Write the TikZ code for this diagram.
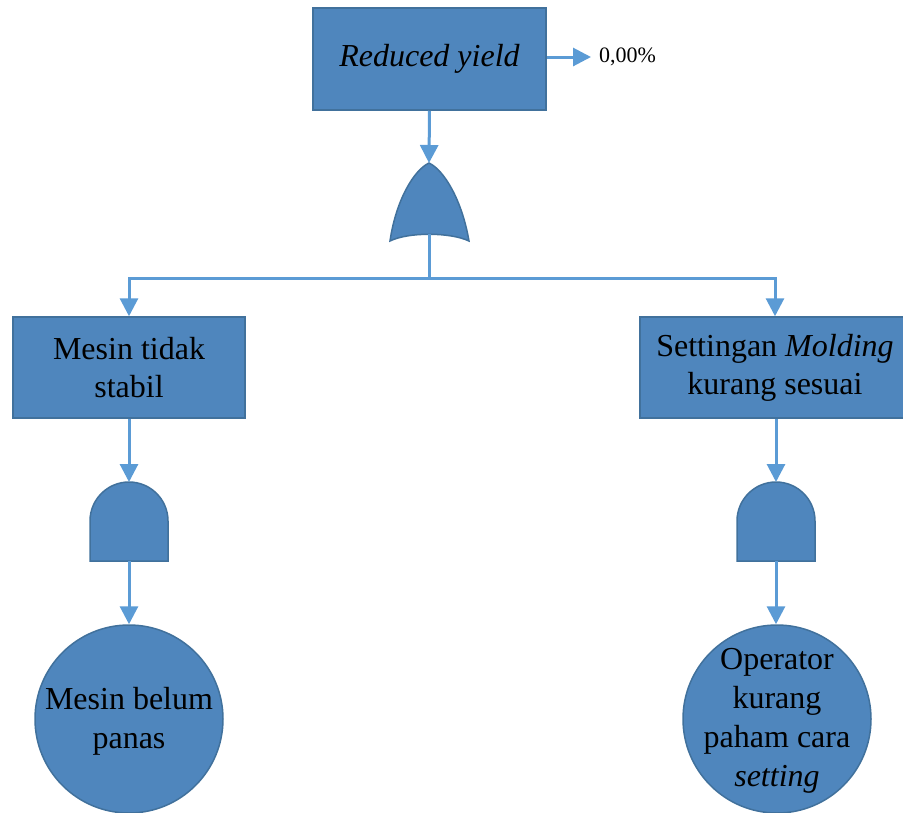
\documentclass[tikz,border=0pt]{standalone}
\usepackage{fontspec}
\setmainfont{Liberation Serif}
\usetikzlibrary{arrows.meta}
\definecolor{boxfill}{RGB}{79,134,189}
\definecolor{boxline}{RGB}{65,113,156}
\definecolor{connc}{RGB}{91,155,213}
\tikzset{
  evbox/.style={draw=boxline, line width=1.5pt, fill=boxfill, align=center, inner sep=0pt,
    font=\fontsize{32}{38}\selectfont},
  basic/.style={circle, draw=boxline, line width=1.5pt, fill=boxfill, inner sep=0pt,
    minimum size=188pt},
  btext/.style={align=center, inner sep=0pt, font=\fontsize{32}{39}\selectfont},
  gate/.style={draw=boxline, line width=1.5pt, fill=boxfill},
  conn/.style={draw=connc, line width=3pt},
  arr/.style={-{Triangle[length=18pt,width=18pt]}},
}
\begin{document}
\begin{tikzpicture}[x=1pt,y=-1pt]
\useasboundingbox (0,0) rectangle (903,812);
% top event
\node[evbox, minimum width=233pt, minimum height=102pt] (top) at (429.5,59) {\textit{Reduced yield}};
\node[anchor=west, font=\fontsize{22}{26}\selectfont, inner sep=0pt] (pct) at (599,57) {0,00\%};
% OR gate
\coordinate (ortop) at (429,163);
\coordinate (orbot) at (429,234);
\path[gate] (390,241) .. controls (396,200) and (414,170) .. (ortop)
  .. controls (444,170) and (462,200) .. (469,241)
  .. controls (450,232) and (408,232) .. cycle;
% intermediate events
\node[evbox, minimum width=232pt, minimum height=101pt] (m1) at (129,367.5) {Mesin tidak\\stabil};
\node[evbox, minimum width=270pt, minimum height=101pt] (m2) at (775,367.5) {Settingan \textit{Molding}\\kurang sesuai};
% AND gates
\coordinate (and1top) at (129,482);
\coordinate (and1bot) at (129,561);
\path[gate] (90,561) -- (90,521) arc[start angle=180,end angle=360,radius=39] -- (168,561) -- cycle;
\coordinate (and2top) at (776,482);
\coordinate (and2bot) at (776,561);
\path[gate] (737,561) -- (737,521) arc[start angle=180,end angle=360,radius=39] -- (815,561) -- cycle;
% basic events
\node[basic] (b1) at (129,719) {};
\node[btext] (t1) at (129,721) {Mesin belum\\panas};
\node[basic] (b2) at (777,719) {};
\node[btext] (t2) at (777,721) {Operator\\kurang\\paham cara\\\textit{setting}};
% connectors
\coordinate (split) at (429,278);
\draw[conn,arr] (top.east |- pct.west) -- ([xshift=-8pt]pct.west);
\draw[conn,arr] (top.south) -- (ortop);
\draw[conn] (orbot) -- (split);
\draw[conn,arr] (split) -| (m1.north);
\draw[conn,arr] (split) -| (m2.north);
\draw[conn,arr] (m1.south) -- (and1top);
\draw[conn,arr] (and1bot) -- (b1.north);
\draw[conn,arr] (m2.south -| and2top) -- (and2top);
\draw[conn,arr] (and2bot) -- (b2.north -| and2bot);
\end{tikzpicture}
\end{document}
